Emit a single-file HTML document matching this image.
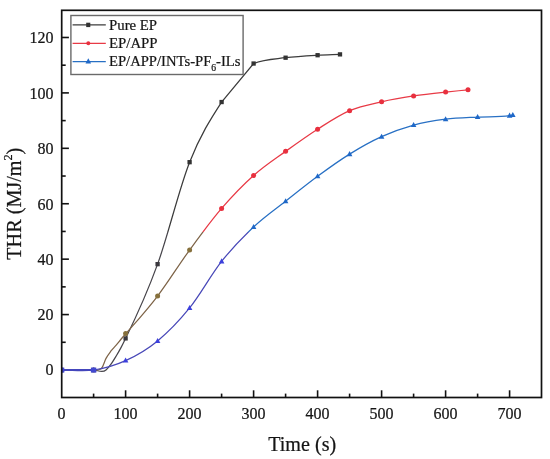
<!DOCTYPE html>
<html><head><meta charset="utf-8"><style>
html,body{margin:0;padding:0;background:#fff;}
body{width:550px;height:459px;overflow:hidden;}
svg{display:block;}
text{font-family:"Liberation Serif","Times New Roman",serif;fill:#151515;stroke:#151515;stroke-width:0.22px;}
</style></head><body>
<svg width="550" height="459" viewBox="0 0 550 459">
<defs><clipPath id="ct"><rect x="61.7" y="10.3" width="479.8" height="221.7"/></clipPath><clipPath id="cb"><rect x="61.7" y="232.0" width="479.8" height="165.5"/></clipPath></defs>
<rect x="0" y="0" width="550" height="459" fill="#fff"/>
<g stroke="#111" stroke-width="1.6">
<line x1="93.60" y1="397.50" x2="93.60" y2="393.60"/>
<line x1="125.60" y1="397.50" x2="125.60" y2="390.30"/>
<line x1="157.60" y1="397.50" x2="157.60" y2="393.60"/>
<line x1="189.60" y1="397.50" x2="189.60" y2="390.30"/>
<line x1="221.60" y1="397.50" x2="221.60" y2="393.60"/>
<line x1="253.60" y1="397.50" x2="253.60" y2="390.30"/>
<line x1="285.60" y1="397.50" x2="285.60" y2="393.60"/>
<line x1="317.60" y1="397.50" x2="317.60" y2="390.30"/>
<line x1="349.60" y1="397.50" x2="349.60" y2="393.60"/>
<line x1="381.60" y1="397.50" x2="381.60" y2="390.30"/>
<line x1="413.60" y1="397.50" x2="413.60" y2="393.60"/>
<line x1="445.60" y1="397.50" x2="445.60" y2="390.30"/>
<line x1="477.60" y1="397.50" x2="477.60" y2="393.60"/>
<line x1="509.60" y1="397.50" x2="509.60" y2="390.30"/>
<line x1="61.70" y1="370.00" x2="68.90" y2="370.00"/>
<line x1="61.70" y1="342.29" x2="65.70" y2="342.29"/>
<line x1="61.70" y1="314.58" x2="68.90" y2="314.58"/>
<line x1="61.70" y1="286.87" x2="65.70" y2="286.87"/>
<line x1="61.70" y1="259.16" x2="68.90" y2="259.16"/>
<line x1="61.70" y1="231.45" x2="65.70" y2="231.45"/>
<line x1="61.70" y1="203.74" x2="68.90" y2="203.74"/>
<line x1="61.70" y1="176.03" x2="65.70" y2="176.03"/>
<line x1="61.70" y1="148.32" x2="68.90" y2="148.32"/>
<line x1="61.70" y1="120.61" x2="65.70" y2="120.61"/>
<line x1="61.70" y1="92.90" x2="68.90" y2="92.90"/>
<line x1="61.70" y1="65.19" x2="65.70" y2="65.19"/>
<line x1="61.70" y1="37.48" x2="68.90" y2="37.48"/>
</g>
<g clip-path="url(#ct)">
<path d="M61.60 370.00 C72.27 370.00 82.93 370.00 93.60 370.00 C97.74 370.00 101.88 373.45 106.02 370.00 C107.62 368.67 109.22 366.62 110.82 364.46 C112.61 362.04 114.40 358.99 116.19 356.01 C117.79 353.34 119.39 350.61 120.99 347.61 C122.53 344.73 124.06 341.54 125.60 338.41 C136.27 316.68 146.93 293.52 157.60 264.15 C168.27 234.78 178.93 189.19 189.60 162.18 C200.27 135.16 210.93 118.49 221.60 102.04 C232.27 89.21 242.93 76.37 253.60 63.53 C264.27 59.05 274.93 59.09 285.60 57.71 C296.27 56.32 306.93 55.79 317.60 55.21 C325.07 54.81 332.53 54.66 340.00 54.38" fill="none" stroke="#3c3c3c" stroke-width="1.25"/>
<rect x="59.45" y="367.85" width="4.3" height="4.3" fill="#333333"/>
<rect x="91.45" y="367.85" width="4.3" height="4.3" fill="#333333"/>
<rect x="123.45" y="336.26" width="4.3" height="4.3" fill="#333333"/>
<rect x="155.45" y="262.00" width="4.3" height="4.3" fill="#333333"/>
<rect x="187.45" y="160.03" width="4.3" height="4.3" fill="#333333"/>
<rect x="219.45" y="99.89" width="4.3" height="4.3" fill="#333333"/>
<rect x="251.45" y="61.38" width="4.3" height="4.3" fill="#333333"/>
<rect x="283.45" y="55.56" width="4.3" height="4.3" fill="#333333"/>
<rect x="315.45" y="53.06" width="4.3" height="4.3" fill="#333333"/>
<rect x="337.85" y="52.23" width="4.3" height="4.3" fill="#333333"/><path d="M61.60 370.00 C72.27 370.00 82.93 370.50 93.60 370.00 C95.31 369.92 97.01 370.35 98.72 369.72 C99.74 369.34 100.77 369.32 101.79 368.00 C103.20 366.20 104.61 361.08 106.02 358.39 C107.62 355.33 109.22 353.32 110.82 351.21 C112.61 348.85 114.40 347.32 116.19 345.20 C117.79 343.31 119.39 341.15 120.99 339.24 C122.53 337.41 124.06 335.74 125.60 333.98 C136.27 321.73 146.93 310.01 157.60 296.01 C168.27 282.02 178.93 264.61 189.60 250.02 C200.27 235.42 210.93 220.87 221.60 208.45 C232.27 196.03 242.93 184.99 253.60 175.48 C264.27 165.96 274.93 159.08 285.60 151.37 C296.27 143.66 306.93 135.99 317.60 129.20 C328.27 122.41 338.93 115.21 349.60 110.63 C360.27 106.06 370.93 104.21 381.60 101.77 C392.27 99.32 402.93 97.56 413.60 95.95 C424.27 94.33 434.93 93.22 445.60 92.07 C453.07 91.26 460.53 90.59 468.00 89.85" fill="none" stroke="#e83a46" stroke-width="1.25"/>
<circle cx="61.60" cy="370.00" r="2.5" fill="#e8303e"/>
<circle cx="93.60" cy="370.00" r="2.5" fill="#e8303e"/>
<circle cx="125.60" cy="333.42" r="2.5" fill="#e8303e"/>
<circle cx="157.60" cy="296.01" r="2.5" fill="#e8303e"/>
<circle cx="189.60" cy="250.02" r="2.5" fill="#e8303e"/>
<circle cx="221.60" cy="208.45" r="2.5" fill="#e8303e"/>
<circle cx="253.60" cy="175.48" r="2.5" fill="#e8303e"/>
<circle cx="285.60" cy="151.37" r="2.5" fill="#e8303e"/>
<circle cx="317.60" cy="129.20" r="2.5" fill="#e8303e"/>
<circle cx="349.60" cy="110.63" r="2.5" fill="#e8303e"/>
<circle cx="381.60" cy="101.77" r="2.5" fill="#e8303e"/>
<circle cx="413.60" cy="95.95" r="2.5" fill="#e8303e"/>
<circle cx="445.60" cy="92.07" r="2.5" fill="#e8303e"/>
<circle cx="468.00" cy="89.85" r="2.5" fill="#e8303e"/><path d="M61.60 370.00 C72.27 370.00 82.93 371.57 93.60 370.00 C104.27 368.43 114.93 365.43 125.60 360.58 C136.27 355.73 146.93 349.68 157.60 340.90 C168.27 332.13 178.93 321.18 189.60 307.93 C200.27 294.67 210.93 274.86 221.60 261.38 C232.27 247.89 242.93 237.04 253.60 227.02 C264.27 216.99 274.93 209.70 285.60 201.25 C296.27 192.79 306.93 184.16 317.60 176.31 C328.27 168.46 338.93 160.74 349.60 154.14 C360.27 147.53 370.93 141.53 381.60 136.68 C392.27 131.83 402.93 127.95 413.60 125.04 C424.27 122.13 434.93 120.56 445.60 119.22 C456.27 117.89 466.93 117.61 477.60 117.01 C488.27 116.41 498.93 117.34 509.60 115.62 C510.67 115.45 511.73 115.25 512.80 115.07" fill="none" stroke="#2870c4" stroke-width="1.25"/>
<path d="M61.60 366.98L64.40 372.02L58.80 372.02Z" fill="#1f68c8"/>
<path d="M93.60 366.98L96.40 372.02L90.80 372.02Z" fill="#1f68c8"/>
<path d="M125.60 357.55L128.40 362.59L122.80 362.59Z" fill="#1f68c8"/>
<path d="M157.60 337.88L160.40 342.92L154.80 342.92Z" fill="#1f68c8"/>
<path d="M189.60 304.91L192.40 309.95L186.80 309.95Z" fill="#1f68c8"/>
<path d="M221.60 258.35L224.40 263.39L218.80 263.39Z" fill="#1f68c8"/>
<path d="M253.60 223.99L256.40 229.03L250.80 229.03Z" fill="#1f68c8"/>
<path d="M285.60 198.22L288.40 203.26L282.80 203.26Z" fill="#1f68c8"/>
<path d="M317.60 173.28L320.40 178.32L314.80 178.32Z" fill="#1f68c8"/>
<path d="M349.60 151.12L352.40 156.16L346.80 156.16Z" fill="#1f68c8"/>
<path d="M381.60 133.66L384.40 138.70L378.80 138.70Z" fill="#1f68c8"/>
<path d="M413.60 122.02L416.40 127.06L410.80 127.06Z" fill="#1f68c8"/>
<path d="M445.60 116.20L448.40 121.24L442.80 121.24Z" fill="#1f68c8"/>
<path d="M477.60 113.98L480.40 119.02L474.80 119.02Z" fill="#1f68c8"/>
<path d="M509.60 112.60L512.40 117.64L506.80 117.64Z" fill="#1f68c8"/>
<path d="M512.80 112.04L515.60 117.08L510.00 117.08Z" fill="#1f68c8"/>
</g>
<g clip-path="url(#cb)">
<path d="M61.60 370.00 C72.27 370.00 82.93 370.00 93.60 370.00 C97.74 370.00 101.88 373.45 106.02 370.00 C107.62 368.67 109.22 366.62 110.82 364.46 C112.61 362.04 114.40 358.99 116.19 356.01 C117.79 353.34 119.39 350.61 120.99 347.61 C122.53 344.73 124.06 341.54 125.60 338.41 C136.27 316.68 146.93 293.52 157.60 264.15 C168.27 234.78 178.93 189.19 189.60 162.18 C200.27 135.16 210.93 118.49 221.60 102.04 C232.27 89.21 242.93 76.37 253.60 63.53 C264.27 59.05 274.93 59.09 285.60 57.71 C296.27 56.32 306.93 55.79 317.60 55.21 C325.07 54.81 332.53 54.66 340.00 54.38" fill="none" stroke="#48464c" stroke-width="1.25"/>
<rect x="59.45" y="367.85" width="4.3" height="4.3" fill="#3a383e"/>
<rect x="91.45" y="367.85" width="4.3" height="4.3" fill="#3a383e"/>
<rect x="123.45" y="336.26" width="4.3" height="4.3" fill="#3a383e"/>
<rect x="155.45" y="262.00" width="4.3" height="4.3" fill="#3a383e"/>
<rect x="187.45" y="160.03" width="4.3" height="4.3" fill="#3a383e"/>
<rect x="219.45" y="99.89" width="4.3" height="4.3" fill="#3a383e"/>
<rect x="251.45" y="61.38" width="4.3" height="4.3" fill="#3a383e"/>
<rect x="283.45" y="55.56" width="4.3" height="4.3" fill="#3a383e"/>
<rect x="315.45" y="53.06" width="4.3" height="4.3" fill="#3a383e"/>
<rect x="337.85" y="52.23" width="4.3" height="4.3" fill="#3a383e"/><path d="M61.60 370.00 C72.27 370.00 82.93 370.50 93.60 370.00 C95.31 369.92 97.01 370.35 98.72 369.72 C99.74 369.34 100.77 369.32 101.79 368.00 C103.20 366.20 104.61 361.08 106.02 358.39 C107.62 355.33 109.22 353.32 110.82 351.21 C112.61 348.85 114.40 347.32 116.19 345.20 C117.79 343.31 119.39 341.15 120.99 339.24 C122.53 337.41 124.06 335.74 125.60 333.98 C136.27 321.73 146.93 310.01 157.60 296.01 C168.27 282.02 178.93 264.61 189.60 250.02 C200.27 235.42 210.93 220.87 221.60 208.45 C232.27 196.03 242.93 184.99 253.60 175.48 C264.27 165.96 274.93 159.08 285.60 151.37 C296.27 143.66 306.93 135.99 317.60 129.20 C328.27 122.41 338.93 115.21 349.60 110.63 C360.27 106.06 370.93 104.21 381.60 101.77 C392.27 99.32 402.93 97.56 413.60 95.95 C424.27 94.33 434.93 93.22 445.60 92.07 C453.07 91.26 460.53 90.59 468.00 89.85" fill="none" stroke="#7e6448" stroke-width="1.25"/>
<circle cx="61.60" cy="370.00" r="2.5" fill="#86703c"/>
<circle cx="93.60" cy="370.00" r="2.5" fill="#86703c"/>
<circle cx="125.60" cy="333.42" r="2.5" fill="#86703c"/>
<circle cx="157.60" cy="296.01" r="2.5" fill="#86703c"/>
<circle cx="189.60" cy="250.02" r="2.5" fill="#86703c"/>
<circle cx="221.60" cy="208.45" r="2.5" fill="#86703c"/>
<circle cx="253.60" cy="175.48" r="2.5" fill="#86703c"/>
<circle cx="285.60" cy="151.37" r="2.5" fill="#86703c"/>
<circle cx="317.60" cy="129.20" r="2.5" fill="#86703c"/>
<circle cx="349.60" cy="110.63" r="2.5" fill="#86703c"/>
<circle cx="381.60" cy="101.77" r="2.5" fill="#86703c"/>
<circle cx="413.60" cy="95.95" r="2.5" fill="#86703c"/>
<circle cx="445.60" cy="92.07" r="2.5" fill="#86703c"/>
<circle cx="468.00" cy="89.85" r="2.5" fill="#86703c"/><path d="M61.60 370.00 C72.27 370.00 82.93 371.57 93.60 370.00 C104.27 368.43 114.93 365.43 125.60 360.58 C136.27 355.73 146.93 349.68 157.60 340.90 C168.27 332.13 178.93 321.18 189.60 307.93 C200.27 294.67 210.93 274.86 221.60 261.38 C232.27 247.89 242.93 237.04 253.60 227.02 C264.27 216.99 274.93 209.70 285.60 201.25 C296.27 192.79 306.93 184.16 317.60 176.31 C328.27 168.46 338.93 160.74 349.60 154.14 C360.27 147.53 370.93 141.53 381.60 136.68 C392.27 131.83 402.93 127.95 413.60 125.04 C424.27 122.13 434.93 120.56 445.60 119.22 C456.27 117.89 466.93 117.61 477.60 117.01 C488.27 116.41 498.93 117.34 509.60 115.62 C510.67 115.45 511.73 115.25 512.80 115.07" fill="none" stroke="#4848b8" stroke-width="1.25"/>
<path d="M61.60 366.98L64.40 372.02L58.80 372.02Z" fill="#3c40dc"/>
<path d="M93.60 366.98L96.40 372.02L90.80 372.02Z" fill="#3c40dc"/>
<path d="M125.60 357.55L128.40 362.59L122.80 362.59Z" fill="#3c40dc"/>
<path d="M157.60 337.88L160.40 342.92L154.80 342.92Z" fill="#3c40dc"/>
<path d="M189.60 304.91L192.40 309.95L186.80 309.95Z" fill="#3c40dc"/>
<path d="M221.60 258.35L224.40 263.39L218.80 263.39Z" fill="#3c40dc"/>
<path d="M253.60 223.99L256.40 229.03L250.80 229.03Z" fill="#3c40dc"/>
<path d="M285.60 198.22L288.40 203.26L282.80 203.26Z" fill="#3c40dc"/>
<path d="M317.60 173.28L320.40 178.32L314.80 178.32Z" fill="#3c40dc"/>
<path d="M349.60 151.12L352.40 156.16L346.80 156.16Z" fill="#3c40dc"/>
<path d="M381.60 133.66L384.40 138.70L378.80 138.70Z" fill="#3c40dc"/>
<path d="M413.60 122.02L416.40 127.06L410.80 127.06Z" fill="#3c40dc"/>
<path d="M445.60 116.20L448.40 121.24L442.80 121.24Z" fill="#3c40dc"/>
<path d="M477.60 113.98L480.40 119.02L474.80 119.02Z" fill="#3c40dc"/>
<path d="M509.60 112.60L512.40 117.64L506.80 117.64Z" fill="#3c40dc"/>
<path d="M512.80 112.04L515.60 117.08L510.00 117.08Z" fill="#3c40dc"/><line x1="61.60" y1="370.00" x2="95.60" y2="370.00" stroke="#4446bc" stroke-width="1.9"/><rect x="58.90" y="367.60" width="5.4" height="5.0" fill="#4248d0"/><rect x="90.90" y="367.60" width="5.4" height="5.0" fill="#4248d0"/>
</g>
<rect x="61.7" y="10.3" width="479.80" height="387.20" fill="none" stroke="#111" stroke-width="1.7"/>
<!-- legend -->
<rect x="70.9" y="15.5" width="172.2" height="59.0" fill="#fff" stroke="#6a6a6a" stroke-width="1.4"/>
<line x1="72.6" y1="24.9" x2="105.8" y2="24.9" stroke="#3c3c3c" stroke-width="1.25"/>
<rect x="86.2" y="22.7" width="4.1" height="4.4" fill="#333333"/>
<line x1="72.6" y1="43.3" x2="105.8" y2="43.3" stroke="#e83a46" stroke-width="1.25"/>
<circle cx="88.3" cy="43.3" r="2.0" fill="#e8303e"/>
<line x1="72.6" y1="61.5" x2="105.8" y2="61.5" stroke="#2870c4" stroke-width="1.25"/>
<path d="M88.3 58.2L91.1 63.4L85.5 63.4Z" fill="#1f68c8"/>
<g font-size="14.8">
<text x="109" y="29.9">Pure EP</text>
<text x="109" y="47.6">EP/APP</text>
<text x="109" y="66.3" font-size="14.65">EP/APP/INTs-PF<tspan font-size="9.6" dy="4.3">6</tspan><tspan dy="-4.3">-ILs</tspan></text>
</g>
<g font-size="16">
<text x="61.60" y="418.8" text-anchor="middle">0</text>
<text x="125.60" y="418.8" text-anchor="middle">100</text>
<text x="189.60" y="418.8" text-anchor="middle">200</text>
<text x="253.60" y="418.8" text-anchor="middle">300</text>
<text x="317.60" y="418.8" text-anchor="middle">400</text>
<text x="381.60" y="418.8" text-anchor="middle">500</text>
<text x="445.60" y="418.8" text-anchor="middle">600</text>
<text x="509.60" y="418.8" text-anchor="middle">700</text>
<text x="53.5" y="375.00" text-anchor="end">0</text>
<text x="53.5" y="320.38" text-anchor="end">20</text>
<text x="53.5" y="264.96" text-anchor="end">40</text>
<text x="53.5" y="209.54" text-anchor="end">60</text>
<text x="53.5" y="154.12" text-anchor="end">80</text>
<text x="53.5" y="98.70" text-anchor="end">100</text>
<text x="53.5" y="43.28" text-anchor="end">120</text>
</g>
<text x="302.2" y="450.6" font-size="20.1" text-anchor="middle">Time (s)</text>
<text transform="translate(20.7 203.7) rotate(-90)" font-size="20.2" text-anchor="middle">THR (MJ/m<tspan font-size="12.2" dy="-9.2">2</tspan><tspan dy="9.2">)</tspan></text>
</svg>
</body></html>
